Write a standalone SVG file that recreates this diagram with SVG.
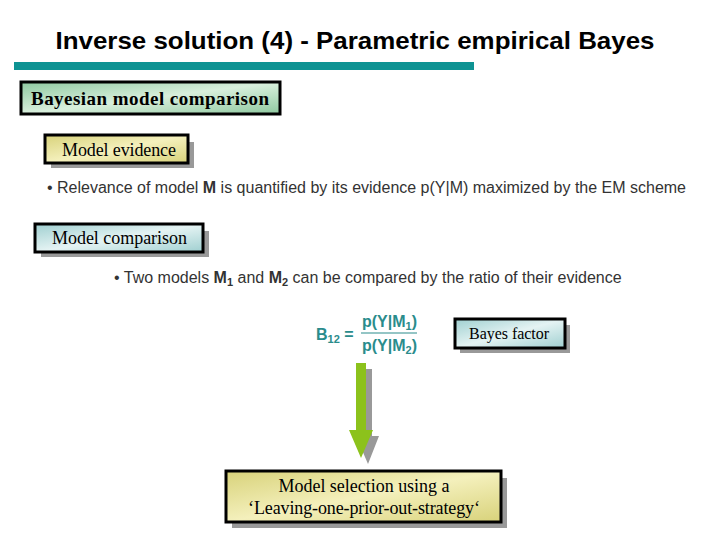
<svg xmlns="http://www.w3.org/2000/svg" width="720" height="540" viewBox="0 0 720 540">
<defs>
<linearGradient id="gG" x1="0" y1="0" x2="1" y2="1"><stop offset="0" stop-color="#8fc9a0"/><stop offset="0.5" stop-color="#d8efdc"/><stop offset="1" stop-color="#8fc9a0"/></linearGradient>
<linearGradient id="gY" x1="0" y1="0" x2="1" y2="1"><stop offset="0" stop-color="#d8d27a"/><stop offset="0.5" stop-color="#f4f0bc"/><stop offset="1" stop-color="#d8d27a"/></linearGradient>
<linearGradient id="gB" x1="0" y1="0" x2="1" y2="1"><stop offset="0" stop-color="#9fcfd0"/><stop offset="0.5" stop-color="#e4f3f3"/><stop offset="1" stop-color="#9fcfd0"/></linearGradient>
</defs>
<style>
.box{stroke:#000;stroke-width:3}
.sh{fill:#999}
.ser{font-family:"Liberation Serif",serif;fill:#000}
.san{font-family:"Liberation Sans",Arial,sans-serif;fill:#333;font-size:16px}
.f{font-family:"Liberation Sans",Arial,sans-serif;fill:#2a8c8c;font-size:16px;font-weight:bold}
</style>
<rect width="720" height="540" fill="#fff"/>
<text x="355" y="49" text-anchor="middle" font-family="Liberation Sans,Arial,sans-serif" font-weight="bold" font-size="24" fill="#000" textLength="599" lengthAdjust="spacingAndGlyphs">Inverse solution (4) - Parametric empirical Bayes</text>
<rect x="14" y="62" width="460" height="8" fill="#0e9393"/>
<g id="n1"><rect x="21" y="82" width="259" height="32" fill="url(#gG)" class="box"/>
<text x="31" y="105" class="ser" font-size="19" font-weight="bold" textLength="238">Bayesian model comparison</text></g>
<g id="n2"><rect x="51" y="142" width="143" height="26" class="sh"/><rect x="45" y="135" width="143" height="28" fill="url(#gY)" class="box"/>
<text x="62" y="156" class="ser" font-size="18" textLength="114">Model evidence</text></g>
<text x="47" y="193" class="san" textLength="639">• Relevance of model <tspan font-weight="bold">M</tspan> is quantified by its evidence p(Y|M) maximized by the EM scheme</text>
<g id="n3"><rect x="41" y="231" width="168" height="26" class="sh"/><rect x="35" y="224" width="168" height="28" fill="url(#gB)" class="box"/>
<text x="52" y="244" class="ser" font-size="18" textLength="135">Model comparison</text></g>
<text x="114" y="283" class="san">• Two models <tspan font-weight="bold">M<tspan font-size="11" dy="3">1</tspan></tspan><tspan dy="-3"> and </tspan><tspan font-weight="bold">M<tspan font-size="11" dy="3">2</tspan></tspan><tspan dy="-3"> can be compared by the ratio of their evidence</tspan></text>
<g id="formula">
<text x="316" y="340" class="f">B<tspan font-size="11" dy="3">12</tspan><tspan dy="-3"> =</tspan></text>
<text x="362" y="327" class="f">p(Y|M<tspan font-size="11" dy="3">1</tspan><tspan dy="-3">)</tspan></text>
<line x1="361" y1="333" x2="417" y2="333" stroke="#2a8c8c" stroke-width="1.2"/>
<text x="362" y="351" class="f">p(Y|M<tspan font-size="11" dy="3">2</tspan><tspan dy="-3">)</tspan></text>
</g>
<g id="n4"><rect x="460" y="325" width="110" height="28" class="sh"/><rect x="455" y="319" width="110" height="29" fill="url(#gB)" class="box"/>
<text x="469" y="339" class="ser" font-size="16" textLength="80">Bayes factor</text></g>
<g id="connectors">
<polygon points="362,369 372,369 372,436 379,436 368,464 356,436 362,436" fill="#999"/>
<polygon points="356,363 366,363 366,430 373,430 361,458 349,430 356,430" fill="#8cc21c"/>
</g>
<g id="n5"><rect x="232" y="478" width="275" height="50" class="sh"/><rect x="226" y="471" width="275" height="51" fill="url(#gY)" class="box"/>
<text x="364" y="492" text-anchor="middle" class="ser" font-size="18" textLength="171">Model selection using a</text>
<text x="364" y="514" text-anchor="middle" class="ser" font-size="18" textLength="232">‘Leaving-one-prior-out-strategy‘</text></g>
</svg>
